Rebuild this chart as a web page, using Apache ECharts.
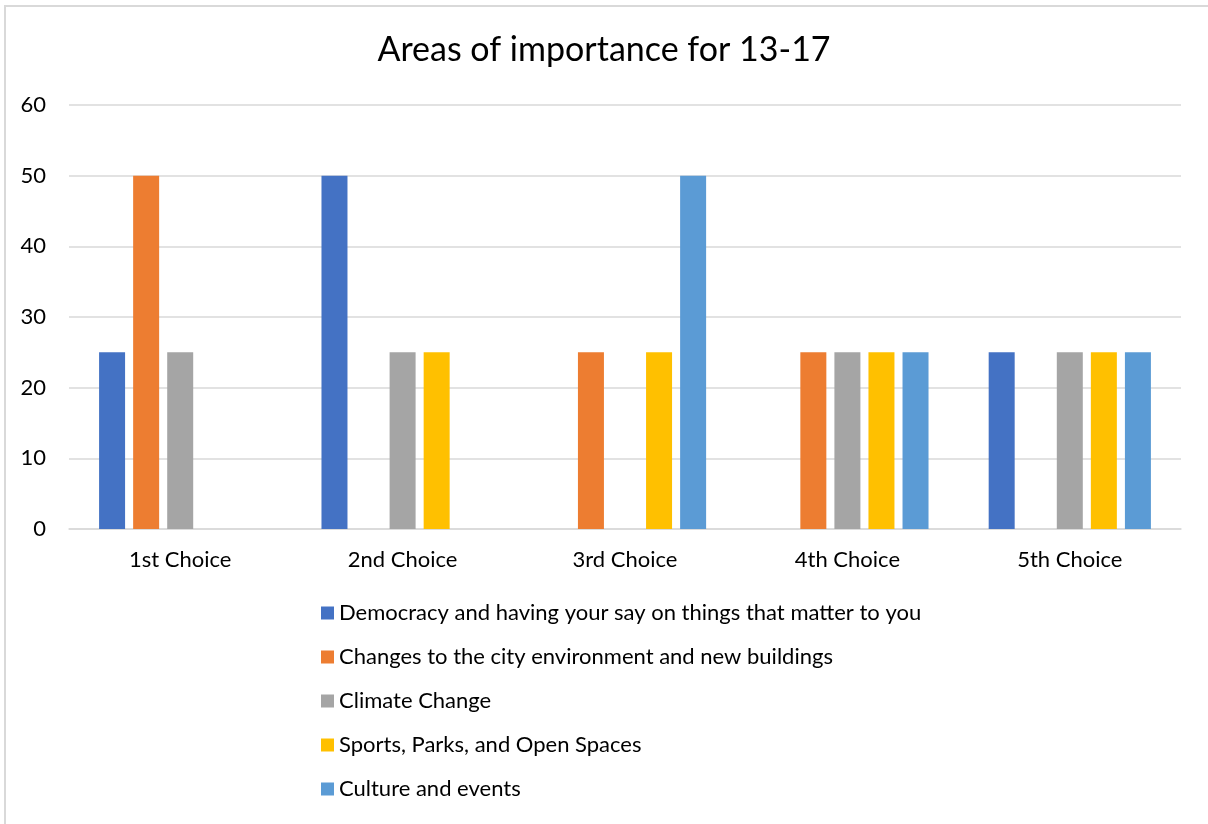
<!DOCTYPE html>
<html>
<head>
<meta charset="utf-8">
<script src="https://cdn.jsdelivr.net/npm/echarts@6/dist/echarts.min.js"></script>
<style>
  html, body { margin: 0; padding: 0; background: #fff; }
  #chart { width: 1208px; height: 824px; }
</style>
</head>
<body>
<div id="chart"></div>
<script>
// Ranked choices (x axis)
const categories = ['1st Choice', '2nd Choice', '3rd Choice', '4th Choice', '5th Choice'];

// Series names, in legend order
const seriesNames = [
  'Democracy and having your say on things that matter to you',
  'Changes to the city environment and new buildings',
  'Climate Change',
  'Sports, Parks, and Open Spaces',
  'Culture and events'
];

// Percentage of responses per choice
const democracy = [25, 50, 0, 0, 25];
const cityEnvironment = [50, 0, 25, 25, 0];
const climateChange = [25, 25, 0, 25, 25];
const sportsParks = [0, 25, 25, 25, 25];
const cultureEvents = [0, 0, 50, 25, 25];

// Value axis ticks
const yTicks = [0, 10, 20, 30, 40, 50, 60];

const seriesValues = [democracy, cityEnvironment, climateChange, sportsParks, cultureEvents];
const colors = ['#4472C4', '#ED7D31', '#A5A5A5', '#FFC000', '#5B9BD5'];
const fontFamily = 'Lato, "Open Sans", sans-serif';

const chart = echarts.init(document.getElementById('chart'), null, { renderer: 'canvas' });

chart.setOption({
  animation: false,
  backgroundColor: '#ffffff',
  color: colors,
  textStyle: { fontFamily: fontFamily, color: '#000' },
  graphic: [{
    type: 'rect',
    shape: { x: 5, y: 6, width: 1400, height: 1000 },
    style: { fill: 'none', stroke: '#d9d9d9', lineWidth: 2 },
    silent: true
  }],
  title: {
    text: 'Areas of importance for 13-17',
    left: 'center',
    top: 31,
    padding: 0,
    textStyle: { fontFamily: fontFamily, fontSize: 34, lineHeight: 38, fontWeight: 'normal', color: '#000' }
  },
  grid: { left: 69, right: 27, top: 105, bottom: 295, containLabel: false },
  legend: {
    orient: 'vertical',
    left: 321,
    top: 602,
    padding: 0,
    itemWidth: 13,
    itemHeight: 13,
    itemGap: 22,
    itemTextGap: 6,
    icon: 'rect',
    data: seriesNames,
    textStyle: { fontFamily: fontFamily, fontSize: 22, lineHeight: 22, color: '#000' }
  },
  xAxis: {
    type: 'category',
    data: categories,
    axisTick: { show: false },
    axisLine: { lineStyle: { color: '#d9d9d9', width: 1.5 } },
    axisLabel: { fontFamily: fontFamily, fontSize: 22, color: '#000', margin: 20 }
  },
  yAxis: {
    type: 'value',
    min: yTicks[0],
    max: yTicks[yTicks.length - 1],
    interval: yTicks[1] - yTicks[0],
    axisLine: { show: false },
    axisTick: { show: false },
    splitLine: { lineStyle: { color: '#d9d9d9', width: 1.5 } },
    axisLabel: { fontFamily: fontFamily, fontSize: 22, color: '#000', margin: 23 }
  },
  series: seriesNames.map((name, i) => ({
    name: name,
    type: 'bar',
    data: seriesValues[i],
    barWidth: 26,
    barGap: '31%',
    itemStyle: { color: colors[i] }
  }))
});
</script>
</body>
</html>
